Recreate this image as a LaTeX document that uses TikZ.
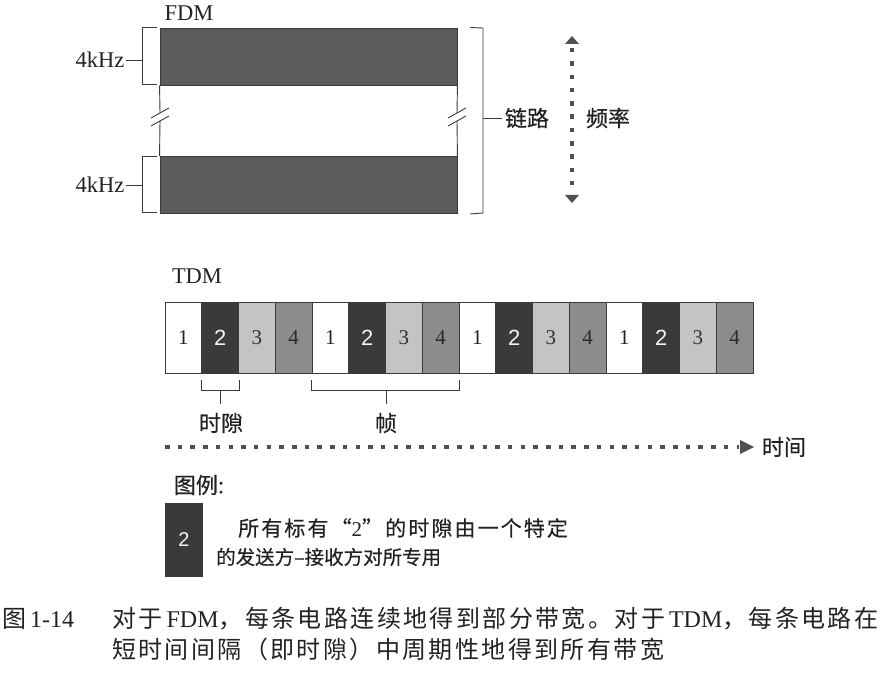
\documentclass[tikz,border=0pt]{standalone}
\usepackage{fontspec}
\setmainfont{Liberation Serif}
\newfontfamily\cjk[FakeBold=0.5]{Noto Sans CJK SC}
\newfontfamily\cjkcap[LetterSpace=10]{Noto Sans CJK SC}
\newfontfamily\cjkleg[LetterSpace=10,FakeBold=0.4]{Noto Sans CJK SC}
\newfontfamily\cjklegb[FakeBold=0.4]{Noto Sans CJK SC}
\newfontfamily\sansnum{Liberation Sans}
\newcommand\setfs[1]{\fontsize{#1}{#1}\selectfont}
\definecolor{barc}{HTML}{5C5C5C}
\definecolor{linec}{HTML}{3A3A3A}
\definecolor{txtc}{HTML}{222222}
\definecolor{dotc}{HTML}{505050}
\definecolor{kc1}{HTML}{FFFFFF}
\definecolor{kc2}{HTML}{3A3A3A}
\definecolor{kc3}{HTML}{C4C4C4}
\definecolor{kc4}{HTML}{8C8C8C}
\definecolor{kt1}{HTML}{222222}
\definecolor{kt2}{HTML}{F4F4F4}
\definecolor{kt3}{HTML}{333333}
\definecolor{kt4}{HTML}{2A2A2A}
\tikzset{
  ln/.style={draw=linec, line width=0.9pt},
  bar/.style={draw=linec, line width=0.9pt, fill=barc, minimum width=297pt, minimum height=57pt, inner sep=0pt},
  slot/.style={draw=linec, line width=0.9pt, minimum width=36.75pt, minimum height=71pt, inner sep=0pt, font=\setfs{21}},
  lat/.style={text=txtc, inner sep=1pt, font=\setfs{22.5}},
  zh/.style={text=txtc, inner sep=1pt, font=\cjk\setfs{22}},
  captxt/.style={text=txtc, inner sep=0pt, font=\setfs{24}},
  dots/.style={draw=dotc, line width=4.5pt, dash pattern=on 4.5pt off 8.2pt},
  dotsv/.style={draw=dotc, line width=4.5pt, dash pattern=on 4.5pt off 8.8pt},
  arrc/.style={fill=dotc}
}
\begin{document}
\begin{tikzpicture}[x=1pt,y=-1pt]
\useasboundingbox (0,0) rectangle (892,682);
% ---------- FDM ----------
\node[lat] (fdm) at (189,13) {FDM};
\node[bar] (bar1) at (308.5,56.5) {};
\node[bar] (bar2) at (308.5,185) {};
% left side with break
\coordinate (lb1) at (160,113);
\coordinate (lb2) at (160,121);
\draw[ln] (bar1.south west) -- (lb1);
\draw[ln] (lb2) -- (bar2.north west);
\draw[ln] ([shift={(-9,5)}]lb1) -- ([shift={(9,-5)}]lb1);
\draw[ln] ([shift={(-9,5)}]lb2) -- ([shift={(9,-5)}]lb2);
% right side with break
\coordinate (rb1) at (457,113);
\coordinate (rb2) at (457,121);
\draw[ln] (bar1.south east) -- (rb1);
\draw[ln] (rb2) -- (bar2.north east);
\draw[ln] ([shift={(-9,5)}]rb1) -- ([shift={(9,-5)}]rb1);
\draw[ln] ([shift={(-9,5)}]rb2) -- ([shift={(9,-5)}]rb2);
% left brackets
\node[lat] (k1) at (100,60) {4kHz};
\node[lat] (k2) at (100,185) {4kHz};
\draw[ln] ([xshift=-3pt]bar1.north west) -- ++(-14,0) -- ++(0,57) -- ++(14,0);
\draw[ln] ([xshift=-3pt]bar2.north west) -- ++(-14,0) -- ++(0,56) -- ++(14,0);
\coordinate (b1m) at (143,60);
\coordinate (b2m) at (143,185);
\draw[ln] (k1.east) -- (b1m);
\draw[ln] (k2.east) -- (b2m);
% right bracket
\draw[ln] ([xshift=13pt]bar1.north east) -- (483,28) -- (483,213) -- ([xshift=13pt]bar2.south east);
\coordinate (rbm) at (483,118);
\node[zh] (lnk) at (527,118) {链路};
\draw[ln] (rbm) -- ([xshift=-2pt]lnk.west);
% frequency arrow
\coordinate (f0) at (572,36);
\coordinate (f1) at (572,203);
\draw[dotsv] ([yshift=-12pt]f0) -- ([yshift=12pt]f1);
\fill[arrc] (f0) -- ([shift={(-7,8)}]f0) -- ([shift={(7,8)}]f0) -- cycle;
\fill[arrc] (f1) -- ([shift={(-7,-8)}]f1) -- ([shift={(7,-8)}]f1) -- cycle;
\node[zh] (frq) at (608,118) {频率};
% ---------- TDM ----------
\node[lat] (tdm) at (197,276) {TDM};
\foreach \i in {0,...,15}{
  \pgfmathtruncatemacro\k{mod(\i,4)+1}
  \node[slot, fill=kc\k, text=kt\k] (s\i) at ({183.375+36.75*\i},337.5)
    {\ifnum\k=2\relax\sansnum\setfs{22}\fi\k};
}
% slot brace
\draw[ln] ([yshift=-7pt]s1.south west) -- ([yshift=-17pt]s1.south west) -- ([yshift=-17pt]s1.south east) -- ([yshift=-7pt]s1.south east);
\node[zh] (lslot) at (221,423) {时隙};
\draw[ln, shorten >=8pt] ([yshift=-17pt]s1.south) -- (lslot.north -| s1.south);
% frame brace
\draw[ln] ([yshift=-7pt]s4.south west) -- ([yshift=-17pt]s4.south west) -- ([yshift=-17pt]s7.south east) -- ([yshift=-7pt]s7.south east);
\coordinate (fmid) at ([yshift=-17pt]s5.south east);
\node[zh] (lframe) at (386,423) {帧};
\draw[ln, shorten >=8pt] (fmid) -- (lframe.north -| fmid);
% time arrow
\coordinate (t0) at (165,447);
\coordinate (t1) at (739,447);
\coordinate (t2) at (754,447);
\draw[dots] (t0) -- (t1);
\fill[arrc] (t2) -- ([shift={(-14,-7)}]t2) -- ([shift={(-14,7)}]t2) -- cycle;
\node[zh] (ltime) at (784,447) {时间};
% ---------- legend ----------
\node[zh] (leg) at (199,485) {图例:};
\node[slot, fill=kc2, text=kt2, minimum width=38pt, minimum height=74pt, draw=none] (lgbox) at (184,540) {\sansnum\setfs{20}2};
\node[text=txtc, inner sep=0pt, anchor=west, font=\cjkleg\setfs{21}] (lg1) at (238,528) {所有标有“{\rmfamily 2}”的时隙由一个特定};
\node[text=txtc, inner sep=0pt, anchor=west, font=\cjklegb\setfs{19.5}] (lg2) at (216,557) {的发送方–接收方对所专用};
% ---------- caption ----------
\node[captxt, anchor=west] (c0) at (2,619) {{\cjkcap 图}\,1-14};
\node[captxt, anchor=west] (c1) at (112,619) {{\cjkcap 对于}\,FDM{\cjkcap ，每条电路连续地得到部分带宽。对于}\,TDM{\cjkcap ，每条电路在}};
\node[captxt, anchor=west] (c2) at (112,649) {{\cjkcap 短时间间隔（即时隙）中周期性地得到所有带宽}};
\end{tikzpicture}
\end{document}
